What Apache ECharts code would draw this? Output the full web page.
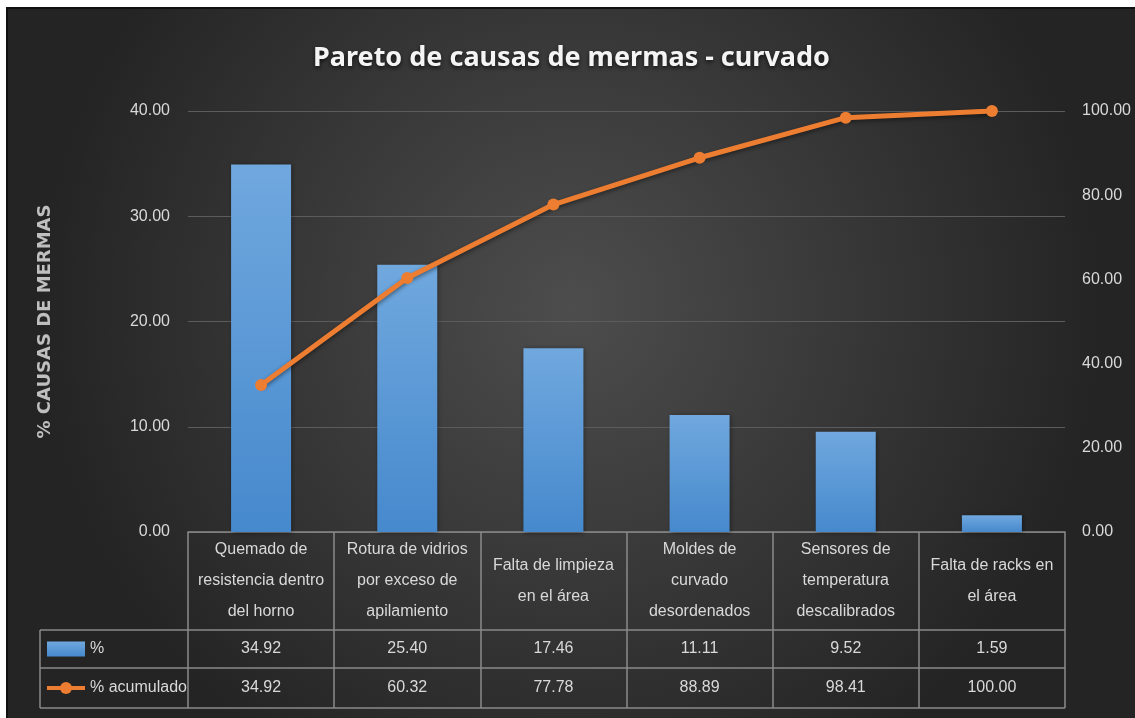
<!DOCTYPE html>
<html>
<head>
<meta charset="utf-8">
<script src="https://cdn.jsdelivr.net/npm/echarts@6/dist/echarts.min.js"></script>
<style>
    html, body { margin: 0; padding: 0; background: #fff; }
    .frame {
        position: absolute;
        left: 6px;
        top: 7px;
        right: 0;
        bottom: 0;
        border-left: 2px solid #111;
        border-top: 2px solid #111;
    }
    #pareto { width: 1127px; height: 709px; }
</style>
</head>
<body>
<div class="frame"><div id="pareto"></div></div>
<script>
const categories = [
    'Quemado de\nresistencia dentro\ndel horno',
    'Rotura de vidrios\npor exceso de\napilamiento',
    'Falta de limpieza\nen el área',
    'Moldes de\ncurvado\ndesordenados',
    'Sensores de\ntemperatura\ndescalibrados',
    'Falta de racks en\nel área'
]
const pct = [34.92, 25.40, 17.46, 11.11, 9.52, 1.59]
const pctAcumulado = [34.92, 60.32, 77.78, 88.89, 98.41, 100.00]
const leftTicks = [0, 10, 20, 30, 40]
const rightTicks = [0, 20, 40, 60, 80, 100]

let containerDom = document.getElementById('pareto')
let myChart = echarts.init(containerDom)

// grid + table geometry (px, inside the chart)
const gLeft = 180, gTop = 102, gWidth = 877, gHeight = 421
const gBottom = gTop + gHeight
const rowHead = 98, rowH = 38
const tableLeft = 32
const lineColor = '#8a8a8a'
const textColor = '#d9d9d9'
const font = "'Liberation Sans', Arial, sans-serif"

const y1 = gBottom + rowHead
const y2 = y1 + rowH
const y3 = y2 + rowH + 2

function hLine(y, x1) {
    return { type: 'line', shape: { x1: x1, y1: y, x2: gLeft + gWidth, y2: y }, style: { stroke: lineColor, lineWidth: 1.5 }, silent: true }
}

let option = {
    backgroundColor: {
        type: 'radial', x: 0.5, y: 0.42, r: 0.75,
        colorStops: [
            { offset: 0, color: '#4d4d4d' },
            { offset: 1, color: '#242424' }
        ]
    },
    title: {
        text: 'Pareto de causas de mermas - curvado',
        left: 'center',
        top: 31,
        textStyle: {
            color: '#f4f4f4',
            fontSize: 27,
            fontWeight: 'bold',
            fontFamily: "'Noto Sans', sans-serif",
            textShadowColor: 'rgba(0,0,0,0.7)',
            textShadowBlur: 4,
            textShadowOffsetY: 2
        }
    },
    legend: {
        orient: 'vertical',
        left: tableLeft + 5,
        top: y1 + 11,
        padding: 0,
        itemWidth: 38,
        itemHeight: 15,
        itemGap: 23,
        textStyle: { color: textColor, fontSize: 16, fontFamily: font },
        data: [
            { name: '%', icon: 'rect' },
            { name: '% acumulado', lineStyle: { width: 4 } }
        ]
    },
    grid: { left: gLeft, top: gTop, width: gWidth, height: gHeight, containLabel: false },
    xAxis: [
        {
            type: 'category',
            data: categories,
            axisLine: { lineStyle: { color: lineColor, width: 1.5 } },
            axisTick: { show: true, length: rowHead + rowH * 2 + 2, lineStyle: { color: lineColor, width: 1.5 } },
            axisLabel: {
                interval: 0, margin: rowHead / 2, verticalAlign: 'middle',
                color: textColor, fontSize: 16, lineHeight: 31, fontFamily: font
            }
        },
        {
            type: 'category',
            data: pct.map(v => v.toFixed(2)),
            position: 'bottom',
            offset: rowHead + rowH / 2,
            axisLine: { show: false },
            axisTick: { show: false },
            axisLabel: { interval: 0, margin: 0, verticalAlign: 'middle', color: textColor, fontSize: 16, fontFamily: font }
        },
        {
            type: 'category',
            data: pctAcumulado.map(v => v.toFixed(2)),
            position: 'bottom',
            offset: rowHead + rowH * 1.5 + 1,
            axisLine: { show: false },
            axisTick: { show: false },
            axisLabel: { interval: 0, margin: 0, verticalAlign: 'middle', color: textColor, fontSize: 16, fontFamily: font }
        }
    ],
    yAxis: [
        {
            type: 'value',
            min: leftTicks[0],
            max: leftTicks[leftTicks.length - 1],
            interval: leftTicks[1] - leftTicks[0],
            name: '% CAUSAS DE MERMAS',
            nameLocation: 'middle',
            nameGap: 134,
            nameTextStyle: { color: '#bfbfbf', fontSize: 18, fontWeight: 'bold', fontFamily: "'DejaVu Sans', sans-serif" },
            axisLine: { show: false },
            axisTick: { show: false },
            axisLabel: { formatter: v => v.toFixed(2), color: textColor, fontSize: 16, margin: 18, fontFamily: font },
            splitLine: { lineStyle: { color: '#5c5c5c', width: 1.2 } }
        },
        {
            type: 'value',
            min: rightTicks[0],
            max: rightTicks[rightTicks.length - 1],
            interval: rightTicks[1] - rightTicks[0],
            axisLine: { show: false },
            axisTick: { show: false },
            axisLabel: { formatter: v => v.toFixed(2), color: textColor, fontSize: 16, margin: 17, fontFamily: font },
            splitLine: { show: false }
        }
    ],
    graphic: [
        hLine(y1, tableLeft),
        hLine(y2, tableLeft),
        hLine(y3, tableLeft),
        { type: 'line', shape: { x1: tableLeft, y1: y1, x2: tableLeft, y2: y3 }, style: { stroke: lineColor, lineWidth: 1.5 }, silent: true }
    ],
    series: [
        {
            name: '%',
            type: 'bar',
            barWidth: 60,
            data: pct,
            itemStyle: {
                color: {
                    type: 'linear', x: 0, y: 0, x2: 0, y2: 1,
                    colorStops: [
                        { offset: 0, color: '#70a8de' },
                        { offset: 1, color: '#4689cd' }
                    ]
                },
                shadowColor: 'rgba(0,0,0,0.45)',
                shadowBlur: 5,
                shadowOffsetX: 1,
                shadowOffsetY: 1
            }
        },
        {
            name: '% acumulado',
            type: 'line',
            yAxisIndex: 1,
            data: pctAcumulado,
            symbol: 'circle',
            symbolSize: 12,
            lineStyle: { color: '#ed7d31', width: 5, shadowColor: 'rgba(0,0,0,0.45)', shadowBlur: 4, shadowOffsetY: 2 },
            itemStyle: { color: '#ed7d31' }
        }
    ]
};
myChart.setOption(option);

window.addEventListener('resize', () => {
    myChart.resize()
})
</script>
</body>
</html>
